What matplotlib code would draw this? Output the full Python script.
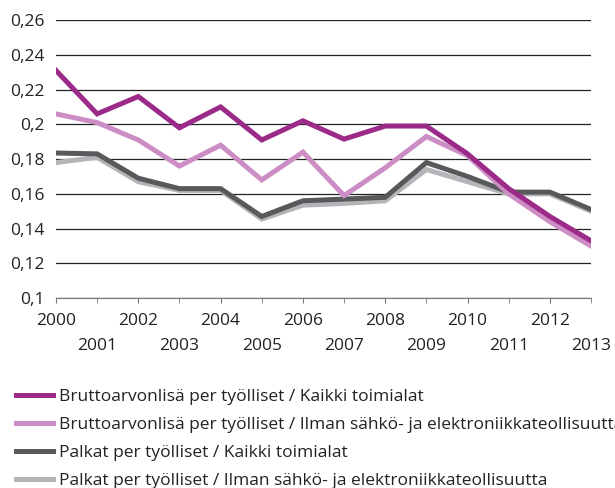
import matplotlib
matplotlib.use("Agg")
import matplotlib.pyplot as plt
from matplotlib.ticker import FuncFormatter, FixedLocator

# data
years = list(range(2000, 2014))

brutto_kaikki = [0.231, 0.206, 0.216, 0.198, 0.210, 0.191, 0.202, 0.1915,
                 0.199, 0.199, 0.183, 0.163, 0.147, 0.133]
brutto_ilman = [0.206, 0.201, 0.191, 0.176, 0.188, 0.168, 0.184, 0.159,
                0.175, 0.193, 0.182, 0.160, 0.144, 0.130]
palkat_kaikki = [0.1835, 0.183, 0.169, 0.163, 0.163, 0.147, 0.156, 0.157,
                 0.158, 0.178, 0.170, 0.161, 0.161, 0.151]
palkat_ilman = [0.178, 0.181, 0.167, 0.162, 0.162, 0.1455, 0.1535, 0.1545,
                0.156, 0.174, 0.167, 0.160, 0.160, 0.150]

labels = [
    "Bruttoarvonlisä per työlliset / Kaikki toimialat",
    "Bruttoarvonlisä per työlliset / Ilman sähkö- ja elektroniikkateollisuutta",
    "Palkat per työlliset / Kaikki toimialat",
    "Palkat per työlliset / Ilman sähkö- ja elektroniikkateollisuutta",
]
colors = ["#9b2a88", "#cc8dc4", "#58595b", "#b3b5b8"]
series = [brutto_kaikki, brutto_ilman, palkat_kaikki, palkat_ilman]

plt.rcParams["font.family"] = ["Open Sans", "DejaVu Sans"]

fig = plt.figure(figsize=(6.15, 4.88), dpi=100)
ax = fig.add_axes([0.091, 0.389, 0.870, 0.570])

lines = []
for i, (vals, col, lab) in enumerate(zip(series, colors, labels)):
    ln, = ax.plot(years, vals, color=col, lw=3.6, label=lab,
                  solid_joinstyle="miter", zorder=10 - i)
    lines.append(ln)

ax.set_xlim(2000, 2013)
ax.set_ylim(0.1, 0.26)
ax.set_yticks([0.1 + 0.02 * k for k in range(9)])
ax.yaxis.set_major_formatter(
    FuncFormatter(lambda v, p: ("%g" % round(v, 2)).replace(".", ",")))
ax.grid(axis="y", color="#222222", lw=0.9)
ax.set_axisbelow(True)

# even years on the first row, odd years on the second
even = [y for y in years if y % 2 == 0]
odd = [y for y in years if y % 2 == 1]
ax.xaxis.set_major_locator(FixedLocator(even))
ax.xaxis.set_minor_locator(FixedLocator(odd))
ax.set_xticklabels([str(y) for y in even])
ax.set_xticklabels([str(y) for y in odd], minor=True)

for s in ["top", "right", "left"]:
    ax.spines[s].set_visible(False)
ax.spines["bottom"].set_color("#777777")
ax.tick_params(axis="y", length=0, labelsize=12.5, colors="#222222", pad=8)
ax.tick_params(axis="x", which="major", length=3.5, color="#777777",
               labelsize=12.5, labelcolor="#222222", pad=7)
ax.tick_params(axis="x", which="minor", length=3.5, color="#777777",
               labelsize=12.5, labelcolor="#222222", pad=25)

fig.legend(handles=lines, loc="upper left", bbox_to_anchor=(0.026, 0.203),
           frameon=False, fontsize=12.5, handlelength=2.13, handletextpad=0.35,
           labelspacing=0.68, borderaxespad=0, borderpad=0,
           labelcolor="#222222")

fig.savefig("out.png", dpi=100)
